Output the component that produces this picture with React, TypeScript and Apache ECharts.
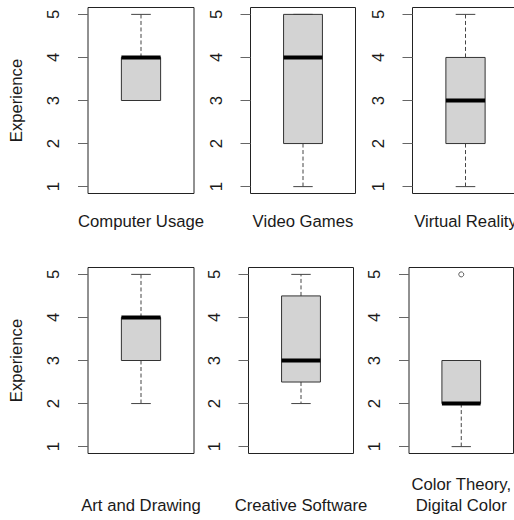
import React, { useEffect, useRef } from "react";
import * as echarts from "echarts";

// ---- data ----
const categories = [
  "Computer Usage",
  "Video Games",
  "Virtual Reality",
  "Art and Drawing",
  "Creative Software",
  "Color Theory,\nDigital Color",
];
const whiskerLow = [3, 1, 1, 2, 2, 1];
const lowerQuartile = [3, 2, 2, 3, 2.5, 2];
const medians = [4, 4, 3, 4, 3, 2];
const upperQuartile = [4, 5, 4, 4, 4.5, 3];
const whiskerHigh = [5, 5, 5, 5, 5, 3];
const outliers: number[][] = [[], [], [], [], [], [5]];
const yTicks = [1, 2, 3, 4, 5];
const yAxisTitle = "Experience";

// ---- layout (pixels) ----
const panelBoxes = [
  { left: 88, top: 7.5, width: 106, row: 0 },
  { left: 250.5, top: 7.5, width: 105, row: 0 },
  { left: 412.5, top: 7.5, width: 106, row: 0 },
  { left: 88, top: 267.5, width: 106, row: 1 },
  { left: 248.5, top: 267.5, width: 105, row: 1 },
  { left: 409, top: 267.5, width: 104.5, row: 1 },
];
const PANEL_H = 186;
const FS = 16.7;
const FONT = "'Liberation Sans', Arial, sans-serif";
const TEXT = "#1a1a1a";

export default function App() {
  const ref = useRef<HTMLDivElement>(null);

  useEffect(() => {
    if (!ref.current) return;
    const chart = echarts.init(ref.current, null, { renderer: "svg" });

    const grids: any[] = [];
    const xAxes: any[] = [];
    const yAxes: any[] = [];
    const series: any[] = [];

    panelBoxes.forEach((p, i) => {
      grids.push({
        left: p.left,
        top: p.top,
        width: p.width,
        height: PANEL_H,
        show: true,
        borderColor: "#222",
        borderWidth: 1,
        backgroundColor: "transparent",
        containLabel: false,
        outerBoundsMode: "none",
      });
      xAxes.push({
        type: "category",
        gridIndex: i,
        data: [categories[i]],
        axisLine: { show: false },
        axisTick: { show: false },
        splitLine: { show: false },
        axisLabel: {
          interval: 0,
          fontSize: FS,
          fontFamily: FONT,
          color: TEXT,
          lineHeight: 21,
          verticalAlign: "bottom",
          margin: p.row === 0 ? 38 : 62,
        },
      });
      yAxes.push({
        type: "value",
        gridIndex: i,
        min: 0.84,
        max: 5.16,
        name: i % 3 === 0 ? yAxisTitle : "",
        nameLocation: "middle",
        nameRotate: 90,
        nameGap: 63,
        nameTextStyle: { fontSize: FS, fontFamily: FONT, color: TEXT },
        axisLine: { show: false },
        splitLine: { show: false },
        axisTick: {
          show: true,
          inside: false,
          length: 10,
          customValues: yTicks,
          lineStyle: { color: "#666", width: 1 },
        },
        axisLabel: {
          rotate: 90,
          fontSize: FS,
          fontFamily: FONT,
          color: TEXT,
          margin: 26,
          customValues: yTicks,
        },
      });
      series.push({
        type: "custom",
        xAxisIndex: i,
        yAxisIndex: i,
        data: [[0, whiskerLow[i], lowerQuartile[i], medians[i], upperQuartile[i], whiskerHigh[i]]],
        renderItem: (params: any, api: any) => {
          const xv = api.value(0);
          const lo = api.value(1);
          const a = api.value(2);
          const m = api.value(3);
          const b = api.value(4);
          const hi = api.value(5);
          const band = api.size([1, 0])[0];
          const bw = band * 0.37;
          const cw = bw / 2;
          const pLo = api.coord([xv, lo]);
          const pA = api.coord([xv, a]);
          const pM = api.coord([xv, m]);
          const pB = api.coord([xv, b]);
          const pHi = api.coord([xv, hi]);
          const cx = pLo[0];
          const dash = { stroke: "#444", lineWidth: 1, lineDash: [4, 2.5] };
          const solid = { stroke: "#444", lineWidth: 1 };
          const children: any[] = [];
          if (hi > b) {
            children.push({ type: "line", shape: { x1: cx, y1: pB[1], x2: cx, y2: pHi[1] }, style: dash });
          }
          if (lo < a) {
            children.push({ type: "line", shape: { x1: cx, y1: pA[1], x2: cx, y2: pLo[1] }, style: dash });
          }
          children.push({ type: "line", shape: { x1: cx - cw / 2, y1: pHi[1], x2: cx + cw / 2, y2: pHi[1] }, style: solid });
          children.push({ type: "line", shape: { x1: cx - cw / 2, y1: pLo[1], x2: cx + cw / 2, y2: pLo[1] }, style: solid });
          children.push({
            type: "rect",
            shape: { x: cx - bw / 2, y: pB[1], width: bw, height: pA[1] - pB[1] },
            style: { fill: "#d3d3d3", stroke: "#333", lineWidth: 1 },
          });
          children.push({
            type: "line",
            shape: { x1: cx - bw / 2, y1: pM[1], x2: cx + bw / 2, y2: pM[1] },
            style: { stroke: "#000", lineWidth: 4 },
          });
          return { type: "group", children };
        },
      });
      if (outliers[i].length) {
        series.push({
          type: "scatter",
          xAxisIndex: i,
          yAxisIndex: i,
          data: outliers[i].map((v) => [0, v]),
          symbol: "circle",
          symbolSize: 5,
          itemStyle: { color: "#fff", borderColor: "#333", borderWidth: 1 },
        });
      }
    });

    chart.setOption({
      animation: false,
      backgroundColor: "#fff",
      grid: grids,
      xAxis: xAxes,
      yAxis: yAxes,
      series,
    });
    return () => chart.dispose();
  }, []);

  return (
    <div
      ref={ref}
      style={{ position: "fixed", left: 0, top: 0, width: 514, height: 520 }}
    />
  );
}
